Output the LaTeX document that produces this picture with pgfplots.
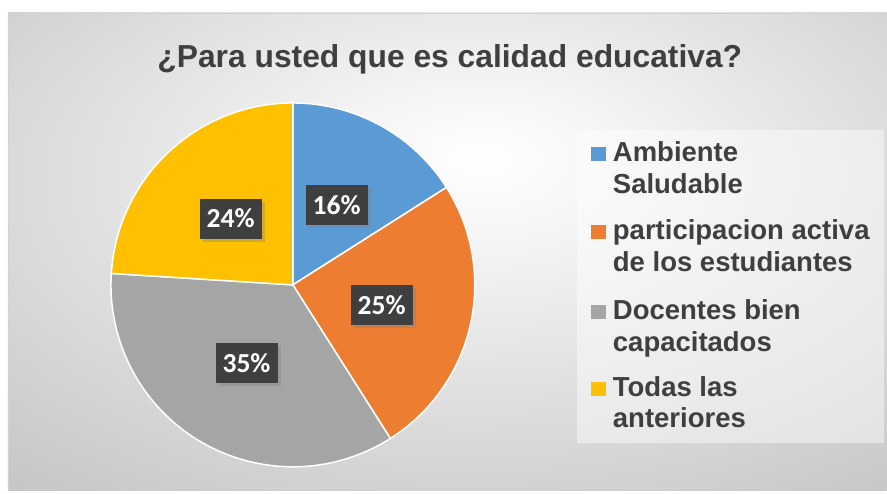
\documentclass[border=0pt]{standalone}
\usepackage{pgfplots}
\pgfplotsset{compat=1.18}
\usepackage{pgfplotstable}
\usepackage{fontspec}
\setmainfont{Liberation Sans}
\newfontfamily\calibri{Carlito}
\usetikzlibrary{shadows}

\definecolor{cBlue}{HTML}{5B9BD5}
\definecolor{cOrange}{HTML}{ED7D31}
\definecolor{cGray}{HTML}{A5A5A5}
\definecolor{cYellow}{HTML}{FFC000}
\definecolor{txt}{HTML}{3F3F3F}
\definecolor{bgout}{HTML}{C6C6C6}

% share of answers (%) and slice colour, clockwise from 12 o'clock
\pgfplotstableread[col sep=comma]{
pct,col
16,cBlue
25,cOrange
35,cGray
24,cYellow
}\piedata

\pgfdeclareradialshading{bgshade}{\pgfpoint{2bp}{10bp}}{%
  color(0bp)=(white); color(8bp)=(white!96!black);
  color(40bp)=(bgout); color(100bp)=(bgout)}

\begin{document}
\begin{tikzpicture}
\begin{axis}[
  scale only axis,
  width=887pt, height=491pt,
  xmin=0, xmax=887, ymin=0, ymax=491,
  hide axis, clip=false,
]
\pgfplotsextra{
  % whole picture, with white margin top and left
  \fill[white] (axis cs:0,0) rectangle (axis cs:887,491);
  % chart area
  \shade[shading=bgshade] (axis cs:8,0) rectangle (axis cs:887,478);
  \draw[gray!35, line width=0.8pt] (axis cs:8,0) -- (axis cs:8,478) -- (axis cs:887,478);
  % pie
  \def\cx{293}\def\cy{206}\def\R{182}
  \gdef\acc{0}
  \foreach \i in {0,...,3}{
    \pgfplotstablegetelem{\i}{pct}\of\piedata \edef\v{\pgfplotsretval}
    \pgfplotstablegetelem{\i}{col}\of\piedata \edef\c{\pgfplotsretval}
    \pgfmathsetmacro\aS{90-3.6*\acc}
    \pgfmathsetmacro\aE{90-3.6*(\acc+\v)}
    \fill[\c, draw=white, line width=1.5pt, line join=round]
      (axis cs:\cx,\cy) -- (axis cs:{\cx+\R*cos(\aS)},{\cy+\R*sin(\aS)})
      arc[start angle=\aS, end angle=\aE, radius=\R pt] -- cycle;
    \pgfmathsetmacro\newacc{\acc+\v}\xdef\acc{\newacc}
  }
  % data labels
  \gdef\acc{0}
  \foreach \i in {0,...,3}{
    \pgfplotstablegetelem{\i}{pct}\of\piedata \edef\v{\pgfplotsretval}
    \pgfmathsetmacro\aM{90-3.6*(\acc+\v/2)}
    \node[fill=txt, text=white, font=\calibri\bfseries\fontsize{27.5}{30}\selectfont,
          minimum width=62pt, minimum height=40pt, inner sep=0pt,
          drop shadow={shadow xshift=3pt, shadow yshift=-3pt, opacity=0.35}]
      at (axis cs:{\cx+91*cos(\aM)},{\cy+91*sin(\aM)}) {\v\%};
    \pgfmathsetmacro\newacc{\acc+\v}\xdef\acc{\newacc}
  }
  % title
  \node[anchor=base, text=txt, font=\bfseries\fontsize{31.8}{36}\selectfont]
    at (axis cs:450,423) {¿Para usted que es calidad educativa?};
  % legend
  \fill[white, opacity=0.45] (axis cs:577,48) rectangle (axis cs:884,361);
  \tikzset{lg/.style={anchor=base west, inner sep=0pt, text=txt,
                      font=\bfseries\fontsize{27.5}{32}\selectfont}}
  \fill[cBlue]   (axis cs:591,330) rectangle (axis cs:606,344);
  \fill[cOrange] (axis cs:591,252) rectangle (axis cs:606,266);
  \fill[cGray]   (axis cs:591,172) rectangle (axis cs:606,186);
  \fill[cYellow] (axis cs:591,95)  rectangle (axis cs:606,109);
  \node[lg] at (axis cs:613,329) {Ambiente};
  \node[lg] at (axis cs:613,297) {Saludable};
  \node[lg] at (axis cs:613,251) {participacion activa};
  \node[lg] at (axis cs:613,219) {de los estudiantes};
  \node[lg] at (axis cs:613,171) {Docentes bien};
  \node[lg] at (axis cs:613,139) {capacitados};
  \node[lg] at (axis cs:613,94)  {Todas las};
  \node[lg] at (axis cs:613,63)  {anteriores};
}
\end{axis}
\end{tikzpicture}
\end{document}
